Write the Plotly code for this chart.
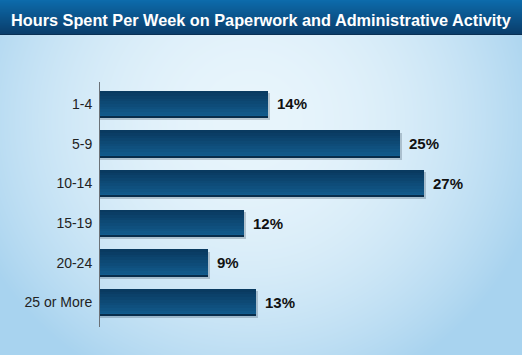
import base64, struct, zlib
import numpy as np
import plotly.graph_objects as go

# ---- data ----
categories = ["1-4", "5-9", "10-14", "15-19", "20-24", "25 or More"]
values = [14, 25, 27, 12, 9, 13]
value_labels = ["14%", "25%", "27%", "12%", "9%", "13%"]
title_text = "Hours Spent Per Week on Paperwork and Administrative Activity"

W, H = 522, 355

# ---- background image (decoration) ----
def make_png(arr):
    h, w, _ = arr.shape
    raw = b"".join(b"\x00" + arr[y].tobytes() for y in range(h))
    def chunk(tag, data):
        c = struct.pack(">I", len(data)) + tag + data
        return c + struct.pack(">I", zlib.crc32(tag + data) & 0xFFFFFFFF)
    png = b"\x89PNG\r\n\x1a\n"
    png += chunk(b"IHDR", struct.pack(">IIBBBBB", w, h, 8, 2, 0, 0, 0))
    png += chunk(b"IDAT", zlib.compress(raw, 9))
    png += chunk(b"IEND", b"")
    return "data:image/png;base64," + base64.b64encode(png).decode()

yy, xx = np.mgrid[0:H, 0:W].astype(float)
r = np.sqrt(((xx - 250) / 300) ** 2 + ((yy - 120) / 290) ** 2)
t = np.clip(r, 0, 1) ** 2
c0 = np.array([232, 245, 252], float)
c1 = np.array([168, 211, 239], float)
img = c0[None, None, :] * (1 - t[..., None]) + c1[None, None, :] * t[..., None]
# title bar
bar_h = 34
top = np.array([13, 107, 171], float)
bot = np.array([10, 62, 108], float)
for y in range(bar_h):
    f = y / (bar_h - 1)
    img[y, :, :] = top * (1 - f) + bot * f
img[bar_h, :, :] = np.array([9, 48, 84])
img = np.clip(img, 0, 255).astype(np.uint8)
bg_uri = make_png(img)

# ---- figure ----
fig = go.Figure()

band_w = 0.68
dark = np.array([9, 58, 96], float)
light = np.array([18, 92, 142], float)
n_bands = 10
# shadow
fig.add_trace(go.Bar(
    y=categories, x=[v + 0.15 for v in values], orientation="h",
    width=band_w, offset=-band_w / 2 + 0.06,
    marker=dict(color="rgba(40,60,80,0.25)", line=dict(width=0)),
    hoverinfo="skip", showlegend=False))
for k in range(n_bands):
    f = k / (n_bands - 1)
    col = dark * (1 - f) + light * f
    off = -band_w / 2 + k * band_w / n_bands
    fig.add_trace(go.Bar(
        y=categories, x=values, orientation="h",
        width=band_w - k * band_w / n_bands, offset=off,
        marker=dict(color="rgb(%d,%d,%d)" % tuple(col), line=dict(width=0)),
        hoverinfo="skip", showlegend=False))
# bottom edge line
fig.add_trace(go.Bar(
    y=categories, x=values, orientation="h",
    width=0.03, offset=band_w / 2 - 0.03,
    marker=dict(color="rgb(8,45,75)", line=dict(width=0)),
    hoverinfo="skip", showlegend=False))

annotations = [dict(text="<b>%s</b>" % title_text, xref="paper", yref="paper",
                    x=0.5, y=1 - 20 / H, xanchor="center", yanchor="middle",
                    showarrow=False,
                    font=dict(family="Liberation Sans, Arial", size=16.3, color="white"))]
for cat, v, lab in zip(categories, values, value_labels):
    annotations.append(dict(
        x=v, y=cat, xref="x", yref="y", text="<b>%s</b>" % lab,
        xanchor="left", yanchor="middle", xshift=7, showarrow=False,
        font=dict(family="Liberation Sans, Arial", size=15, color="#111111")))

fig.update_layout(
    width=W, height=H,
    margin=dict(l=0, r=0, t=0, b=0),
    paper_bgcolor="#d8ecf8", plot_bgcolor="rgba(0,0,0,0)",
    barmode="overlay", bargap=0,
    images=[dict(source=bg_uri, xref="paper", yref="paper", x=0, y=1,
                 sizex=1, sizey=1, xanchor="left", yanchor="top",
                 sizing="stretch", layer="below")],
    xaxis=dict(domain=[100 / W, 520 / W], range=[0, 35], visible=False, fixedrange=True),
    yaxis=dict(domain=[(H - 327) / H, (H - 82) / H],
               categoryorder="array", categoryarray=categories,
               range=[5.617, -0.554],
               showline=True, linecolor="#6b7177", linewidth=1,
               showgrid=False, zeroline=False,
               ticks="outside", ticklen=4, tickcolor="rgba(0,0,0,0)",
               tickfont=dict(family="Liberation Sans, Arial", size=14, color="#222222"),
               fixedrange=True),
    annotations=annotations,
)

fig.write_html("out.html", config={"displayModeBar": False},
               post_script="document.body.style.margin='0';")
